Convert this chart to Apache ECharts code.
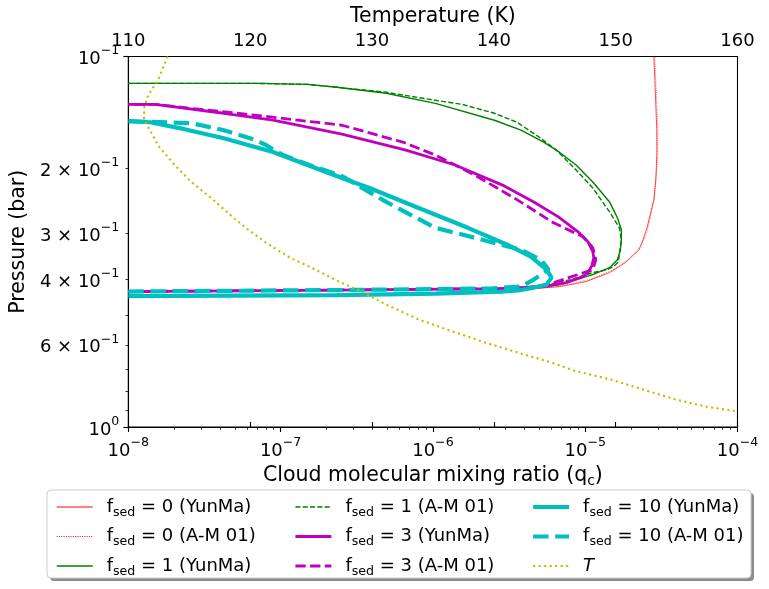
<!DOCTYPE html>
<html><head><meta charset="utf-8">
<script src="https://cdn.jsdelivr.net/npm/echarts@6/dist/echarts.min.js"></script>
<style>html,body{margin:0;padding:0;background:#fff}#c{width:769px;height:589px}</style>
</head><body><div id="c"></div>
<script>
// ---------------- data: [cloud mixing ratio q_c, pressure (bar)] ----------------
const fsed0_YunMa = [[3.41e-6,0.4269],[3.96e-6,0.4256],[5.58e-6,0.4204],[6.87e-6,0.4178],[1.011e-5,0.4051],[1.445e-5,0.3831],[1.834e-5,0.3601],[2.258e-5,0.3323],[2.397e-5,0.3124],[2.544e-5,0.2900],[2.700e-5,0.2627],[2.823e-5,0.2438],[2.908e-5,0.2154],[2.952e-5,0.1845],[2.952e-5,0.1581],[2.908e-5,0.1354],[2.866e-5,0.1160],[2.823e-5,0.1000]];
const fsed0_AM01 = [[3.41e-6,0.4269],[5.74e-6,0.4204],[7.18e-6,0.4153],[1.073e-5,0.4001],[1.534e-5,0.3761],[1.946e-5,0.3513],[2.326e-5,0.3242],[2.544e-5,0.2972],[2.700e-5,0.2676],[2.823e-5,0.2438],[2.908e-5,0.2154],[2.997e-5,0.1845],[2.997e-5,0.1581],[2.952e-5,0.1354],[2.908e-5,0.1160],[2.866e-5,0.1000]];
const fsed1_YunMa = [[1e-8,0.4309],[2.344e-7,0.4269],[2.812e-6,0.4230],[5.333e-6,0.4178],[6.867e-6,0.4127],[8.714e-6,0.4001],[1.122e-5,0.3879],[1.445e-5,0.3715],[1.628e-5,0.3535],[1.702e-5,0.3323],[1.728e-5,0.3124],[1.728e-5,0.2936],[1.628e-5,0.2726],[1.445e-5,0.2469],[1.122e-5,0.2181],[8.714e-6,0.1963],[6.471e-6,0.1789],[5.333e-6,0.1703],[3.788e-6,0.1581],[2.534e-6,0.1486],[1.038e-6,0.1338],[4.933e-7,0.1257],[2.344e-7,0.1211],[1.501e-7,0.1189],[7.13e-8,0.1182],[1e-8,0.1182]];
const fsed1_AM01 = [[1e-8,0.4309],[2.344e-7,0.4269],[2.812e-6,0.4230],[5.333e-6,0.4153],[7.969e-6,0.4001],[1.122e-5,0.3831],[1.403e-5,0.3761],[1.557e-5,0.3669],[1.652e-5,0.3579],[1.702e-5,0.3262],[1.728e-5,0.3124],[1.677e-5,0.2900],[1.445e-5,0.2627],[1.122e-5,0.2264],[8.714e-6,0.2025],[6.471e-6,0.1789],[5.100e-6,0.1662],[3.568e-6,0.1505],[2.534e-6,0.1423],[1.551e-6,0.1346],[1.038e-6,0.1313],[4.933e-7,0.1249],[2.344e-7,0.1211],[1.501e-7,0.1189],[7.13e-8,0.1182],[1e-8,0.1182]];
const fsed3_YunMa = [[1e-8,0.4309],[2.344e-7,0.4269],[2.812e-6,0.4230],[5.333e-6,0.4178],[7.508e-6,0.4076],[9.672e-6,0.3928],[1.042e-5,0.3831],[1.106e-5,0.3669],[1.139e-5,0.3491],[1.122e-5,0.3364],[1.042e-5,0.3162],[8.978e-6,0.2972],[6.667e-6,0.2709],[4.596e-6,0.2469],[2.941e-6,0.2235],[1.398e-6,0.1963],[6.643e-7,0.1789],[2.525e-7,0.1621],[8.911e-8,0.1486],[4.235e-8,0.1423],[1.495e-8,0.1346],[1e-8,0.1346]];
const fsed3_AM01 = [[1e-8,0.4309],[2.344e-7,0.4269],[2.812e-6,0.4230],[5.333e-6,0.4178],[6.187e-6,0.4076],[8.978e-6,0.3879],[1.122e-5,0.3761],[1.174e-5,0.3535],[1.122e-5,0.3282],[9.672e-6,0.3066],[6.187e-6,0.2811],[3.413e-6,0.2408],[1.882e-6,0.2089],[1.038e-6,0.1845],[6.353e-7,0.1703],[2.525e-7,0.1533],[6.92e-8,0.1441],[2.592e-8,0.1380],[1.495e-8,0.1346],[1e-8,0.1346]];
const fsed10_YunMa = [[1e-8,0.4431],[2.344e-7,0.4404],[1.038e-6,0.4364],[2.812e-6,0.4309],[3.788e-6,0.4269],[4.596e-6,0.4204],[5.576e-6,0.4127],[6.006e-6,0.3952],[5.576e-6,0.3761],[4.395e-6,0.3470],[3.075e-6,0.3221],[1.696e-6,0.2900],[8.058e-7,0.2563],[3.831e-7,0.2264],[2.525e-7,0.2128],[8.911e-8,0.1811],[4.235e-8,0.1662],[2.335e-8,0.1571],[1.387e-8,0.1505],[1e-8,0.1495]];
const fsed10_AM01 = [[1e-8,0.4309],[2.344e-7,0.4269],[2.424e-6,0.4230],[3.788e-6,0.4178],[4.596e-6,0.4001],[5.744e-6,0.3761],[5.100e-6,0.3535],[3.788e-6,0.3323],[2.812e-6,0.3221],[1.882e-6,0.3085],[1.038e-6,0.2900],[4.933e-7,0.2469],[3.019e-7,0.2194],[2.525e-7,0.2102],[1.545e-7,0.1963],[1.034e-7,0.1845],[8.029e-8,0.1735],[6.92e-8,0.1682],[4.235e-8,0.1581],[3.007e-8,0.1533],[2.592e-8,0.1514],[1e-8,0.1495]];
// temperature profile (top axis, K) vs pressure (bar)
const tempK = [113.23,112.42,111.62,111.29,111.29,111.78,112.42,113.80,115.17,116.79,118.64,119.85,121.31,123.25,124.86,127.29,129.31,131.16,133.83,136.58,139.24,141.91,144.65,146.75,149.50,152.17,154.83,157.58,159.84];
const tempP = [0.1,0.116,0.1273,0.138,0.1486,0.1581,0.1735,0.1963,0.2181,0.2408,0.2726,0.2936,0.3182,0.3491,0.3692,0.4051,0.4336,0.4671,0.5125,0.552,0.5909,0.6286,0.6688,0.7071,0.743,0.7906,0.841,0.8836,0.9057];

// ---------------- ticks ----------------
const qTickExponents = [-8,-7,-6,-5,-4];
const pTickValues = [0.1,0.2,0.3,0.4,0.6,1];
const pMinorValues = [0.2,0.3,0.4,0.5,0.6,0.7,0.8,0.9];
const tempTicks = [110,120,130,140,150,160];

const FONT = 'DejaVu Sans';
const MINUS = '\u2212';
const lg = Math.log10;
const toLog = arr => arr.map(d => [lg(d[0]), lg(d[1])]);

const qMinor = [];
for (let n = -8; n < -4; n++) for (let k = 2; k <= 9; k++) qMinor.push(n + lg(k));

const supRich = {
  b: {fontFamily: FONT, fontSize: 18, color: '#000', lineHeight: 24, verticalAlign: 'bottom'},
  s: {fontFamily: FONT, fontSize: 12.6, color: '#000', lineHeight: 12.6, verticalAlign: 'top'}
};
const expStr = v => (v < 0 ? MINUS : '') + Math.abs(Math.round(v));

const defs = [
  {name: 'fsed = 0 (YunMa)', rest: '0 (YunMa)', data: fsed0_YunMa, color: '#ff0000', width: 0.7, type: 'solid', lw: 1},
  {name: 'fsed = 0 (A-M 01)', rest: '0 (A-M 01)', data: fsed0_AM01, color: '#ff0000', width: 0.7, type: [0.7, 1.15], lw: 1, ltype: [1, 1.3]},
  {name: 'fsed = 1 (YunMa)', rest: '1 (YunMa)', data: fsed1_YunMa, color: '#008000', width: 1.4, type: 'solid'},
  {name: 'fsed = 1 (A-M 01)', rest: '1 (A-M 01)', data: fsed1_AM01, color: '#008000', width: 1.4, type: [5.1, 2.2]},
  {name: 'fsed = 3 (YunMa)', rest: '3 (YunMa)', data: fsed3_YunMa, color: '#bf00bf', width: 2.8, type: 'solid'},
  {name: 'fsed = 3 (A-M 01)', rest: '3 (A-M 01)', data: fsed3_AM01, color: '#bf00bf', width: 2.8, type: [10.3, 4.4]},
  {name: 'fsed = 10 (YunMa)', rest: '10 (YunMa)', data: fsed10_YunMa, color: '#00bfbf', width: 4.2, type: 'solid'},
  {name: 'fsed = 10 (A-M 01)', rest: '10 (A-M 01)', data: fsed10_AM01, color: '#00bfbf', width: 4.2, type: [15.4, 6.7]}
];
const tDef = {name: 'T', color: '#bfbf00', width: 2.1, type: [2.1, 3.4]};

const series = defs.map(d => ({
  name: d.name, type: 'line', xAxisIndex: 0, yAxisIndex: 0,
  data: toLog(d.data), symbol: 'none', showSymbol: false, animation: false,
  lineStyle: {color: d.color, width: d.width, type: d.type, cap: 'butt'},
  itemStyle: {color: d.color, opacity: 0}
}));
series.push({
  name: 'T', type: 'line', xAxisIndex: 1, yAxisIndex: 0,
  data: tempK.map((t, i) => [t, lg(tempP[i])]), symbol: 'none', showSymbol: false, animation: false,
  lineStyle: {color: tDef.color, width: tDef.width, type: tDef.type, cap: 'butt'},
  itemStyle: {color: tDef.color, opacity: 0}
});

const allDefs = defs.concat([tDef]);
const defMap = {}; allDefs.forEach(d => defMap[d.name] = d);
const legendRich = {
  g: {width: 9},
  a: {fontFamily: FONT, fontSize: 18, color: '#000', lineHeight: 24, verticalAlign: 'middle'},
  b: {fontFamily: FONT, fontSize: 12.6, color: '#000', lineHeight: 12.6, verticalAlign: 'bottom'},
  i: {fontFamily: FONT, fontSize: 18, color: '#000', lineHeight: 24, fontStyle: 'italic'}
};
const legendFmt = name => name === 'T' ? '{g|}{i|T}' : '{g|}{a|f}{b|sed}{a| = ' + defMap[name].rest + '}';
const mkLegend = (left, names) => ({
  orient: 'vertical', left: left, top: 498, padding: 0, itemWidth: 36, itemHeight: 14, itemGap: 8.5,
  selectedMode: false,
  data: names.map(n => { const d = defMap[n]; return {name: n, itemStyle: {opacity: 0},
    lineStyle: {color: d.color, width: d.lw || d.width, type: d.ltype || d.type, cap: 'butt'}}; }),
  formatter: legendFmt,
  textStyle: {rich: legendRich, fontFamily: FONT, fontSize: 18, color: '#000'}
});

const black = {color: '#000', width: 1.1};
const option = {
  animation: false,
  backgroundColor: '#fff',
  grid: {left: 119, right: 31.5, top: 56.5, bottom: 162, show: true, borderColor: '#000', borderWidth: 1.1, backgroundColor: 'transparent'},
  xAxis: [
    {type: 'value', position: 'bottom', min: -8, max: -4, interval: 1,
     axisLine: {show: true, lineStyle: black}, splitLine: {show: false},
     axisTick: {show: true, inside: false, length: 5, lineStyle: black, customValues: qTickExponents},
     axisLabel: {margin: 9, customValues: qTickExponents, formatter: v => '{b|10}{s|' + expStr(v) + '}', rich: supRich},
     name: '{t|Cloud molecular mixing ratio (q}{s|c}{t|)}', nameLocation: 'middle', nameGap: 25,
     nameTextStyle: {rich: {
       t: {fontFamily: FONT, fontSize: 20.5, color: '#000', lineHeight: 26, verticalAlign: 'middle'},
       s: {fontFamily: FONT, fontSize: 14, color: '#000', lineHeight: 14, verticalAlign: 'bottom'}}}},
    {type: 'value', position: 'top', min: 110, max: 160, interval: 10,
     axisLine: {show: true, lineStyle: black}, splitLine: {show: false},
     axisTick: {show: true, inside: false, length: 5, lineStyle: black, customValues: tempTicks},
     axisLabel: {margin: 6, customValues: tempTicks, fontFamily: FONT, fontSize: 18, color: '#000'},
     name: 'Temperature (K)', nameLocation: 'middle', nameGap: 26,
     nameTextStyle: {fontFamily: FONT, fontSize: 20.5, color: '#000'}},
    {type: 'value', position: 'bottom', min: -8, max: -4, interval: 1,
     axisLine: {show: false}, splitLine: {show: false}, axisLabel: {show: false},
     axisTick: {show: true, inside: false, length: 2.8, lineStyle: {color: '#000', width: 0.8}, customValues: qMinor}}
  ],
  yAxis: [
    {type: 'value', position: 'left', inverse: true, min: -1, max: 0,
     axisLine: {show: true, lineStyle: black}, splitLine: {show: false},
     axisTick: {show: true, inside: false, length: 5, lineStyle: black, customValues: [-1, 0]},
     axisLabel: {margin: 9, customValues: pTickValues.map(lg),
       formatter: v => {
         const m = Math.round(Math.pow(10, v) * 10);
         if (m === 1) return '{b|10}{s|' + MINUS + '1}';
         if (m === 10) return '{b|10}{s|0}';
         return '{b|' + m + ' \u00d7 10}{s|' + MINUS + '1}';
       }, rich: supRich},
     name: 'Pressure (bar)', nameLocation: 'middle', nameGap: 92,
     nameTextStyle: {fontFamily: FONT, fontSize: 20.5, color: '#000'}},
    {type: 'value', position: 'left', inverse: true, min: -1, max: 0,
     axisLine: {show: false}, splitLine: {show: false}, axisLabel: {show: false},
     axisTick: {show: true, inside: false, length: 2.8, lineStyle: {color: '#000', width: 0.8}, customValues: pMinorValues.map(lg)}}
  ],
  legend: [
    mkLegend(56, ['fsed = 0 (YunMa)', 'fsed = 0 (A-M 01)', 'fsed = 1 (YunMa)']),
    mkLegend(294, ['fsed = 1 (A-M 01)', 'fsed = 3 (YunMa)', 'fsed = 3 (A-M 01)']),
    mkLegend(531, ['fsed = 10 (YunMa)', 'fsed = 10 (A-M 01)', 'T'])
  ],
  graphic: [
    {type: 'rect', z: -10, silent: true, shape: {x: 50, y: 493, width: 704, height: 88, r: 4}, style: {fill: 'rgba(0,0,0,0.45)'}},
    {type: 'rect', z: -9, silent: true, shape: {x: 47, y: 490, width: 704, height: 88, r: 4}, style: {fill: '#fff', stroke: '#cccccc', lineWidth: 1}}
  ],
  series: series
};
const chart = echarts.init(document.getElementById('c'), null, {renderer: 'canvas'});
chart.setOption(option);
</script></body></html>
